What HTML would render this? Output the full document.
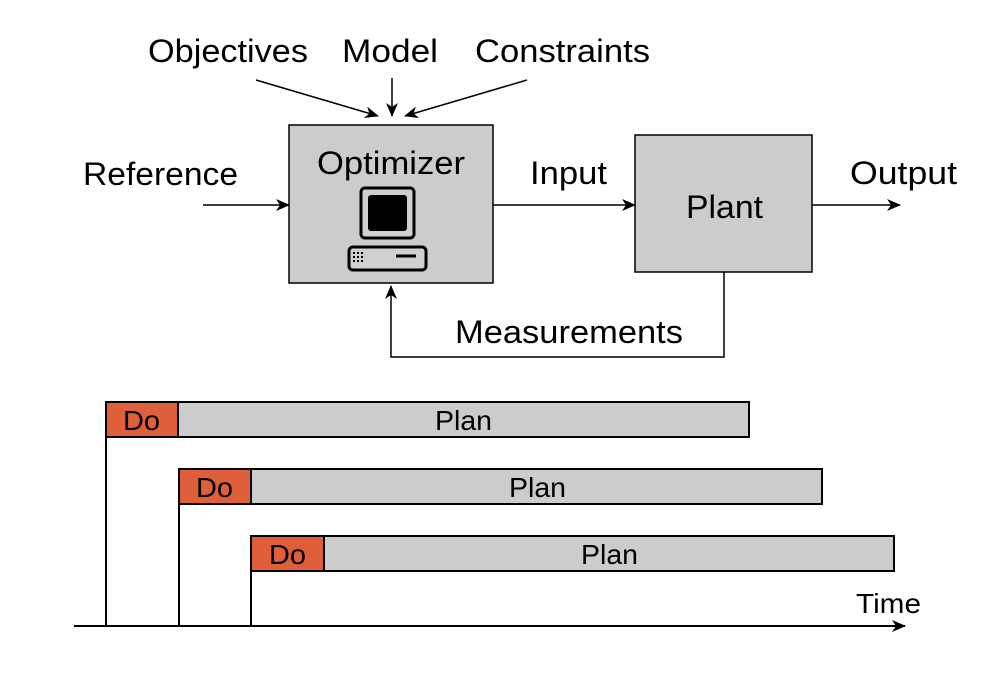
<!DOCTYPE html>
<html><head><style>body{margin:0;background:#fff}svg{display:block}</style></head><body>
<svg width="986" height="686" viewBox="0 0 986 686" xmlns="http://www.w3.org/2000/svg" font-family="Liberation Sans, Arial, sans-serif">
<defs><marker id="a" markerWidth="14" markerHeight="12" refX="13" refY="6" orient="auto" markerUnits="userSpaceOnUse"><path d="M0,0 L14,6 L0,12 L4,6 Z" fill="#000"/></marker></defs>
<g stroke="#000" stroke-width="1.5" fill="none">
<line x1="256" y1="80" x2="378" y2="116" marker-end="url(#a)"/>
<line x1="392" y1="78" x2="392" y2="116" marker-end="url(#a)"/>
<line x1="527" y1="80" x2="405" y2="116" marker-end="url(#a)"/>
<line x1="203" y1="205" x2="289" y2="205" marker-end="url(#a)"/>
<line x1="493" y1="205" x2="635" y2="205" marker-end="url(#a)"/>
<line x1="812" y1="205" x2="900" y2="205" marker-end="url(#a)"/>
<polyline points="724,272 724,357 391,357 391,286" marker-end="url(#a)"/>
</g>
<rect x="289" y="125" width="204" height="158" fill="#cccccc" stroke="#000" stroke-width="1.5"/>
<rect x="635" y="135" width="177" height="137" fill="#cccccc" stroke="#000" stroke-width="1.5"/>
<rect x="361" y="188" width="53" height="50" rx="4" fill="#d0d0d0" stroke="#000" stroke-width="3"/>
<rect x="368" y="195" width="39" height="36" rx="3" fill="#000"/>
<rect x="349" y="247" width="77" height="23" rx="4" fill="#d0d0d0" stroke="#000" stroke-width="3"/>
<line x1="396" y1="256" x2="416" y2="256" stroke="#000" stroke-width="3"/>
<g fill="#000"><rect x="353" y="252" width="2" height="2"/><rect x="357" y="252" width="2" height="2"/><rect x="361" y="252" width="2" height="2"/><rect x="353" y="256" width="2" height="2"/><rect x="357" y="256" width="2" height="2"/><rect x="361" y="256" width="2" height="2"/><rect x="353" y="260" width="2" height="2"/><rect x="357" y="260" width="2" height="2"/><rect x="361" y="260" width="2" height="2"/></g>
<g font-size="32" fill="#000">
<text x="148" y="62" textLength="160" lengthAdjust="spacingAndGlyphs">Objectives</text>
<text x="342" y="62" textLength="96" lengthAdjust="spacingAndGlyphs">Model</text>
<text x="475" y="62" textLength="175" lengthAdjust="spacingAndGlyphs">Constraints</text>
<text x="83" y="185" textLength="155" lengthAdjust="spacingAndGlyphs">Reference</text>
<text x="317" y="174" textLength="148" lengthAdjust="spacingAndGlyphs">Optimizer</text>
<text x="530" y="184" textLength="77" lengthAdjust="spacingAndGlyphs">Input</text>
<text x="686" y="218" textLength="77" lengthAdjust="spacingAndGlyphs">Plant</text>
<text x="850" y="184" textLength="107" lengthAdjust="spacingAndGlyphs">Output</text>
<text x="455" y="343" textLength="228" lengthAdjust="spacingAndGlyphs">Measurements</text>
</g>
<g stroke="#000" stroke-width="2">
<rect x="106" y="402" width="643" height="35" fill="#cccccc"/>
<rect x="106" y="402" width="72" height="35" fill="#e05f3b"/>
<rect x="179" y="469" width="643" height="35" fill="#cccccc"/>
<rect x="179" y="469" width="72" height="35" fill="#e05f3b"/>
<rect x="251" y="536" width="643" height="35" fill="#cccccc"/>
<rect x="251" y="536" width="73" height="35" fill="#e05f3b"/>
<line x1="106" y1="437" x2="106" y2="626"/>
<line x1="179" y1="504" x2="179" y2="626"/>
<line x1="251" y1="571" x2="251" y2="626"/>
<line x1="74" y1="626" x2="905" y2="626" marker-end="url(#a)"/>
</g>
<g font-size="28" fill="#000">
<text x="123" y="430" textLength="37" lengthAdjust="spacingAndGlyphs">Do</text><text x="435" y="430" textLength="57" lengthAdjust="spacingAndGlyphs">Plan</text>
<text x="196" y="497" textLength="37" lengthAdjust="spacingAndGlyphs">Do</text><text x="509" y="497" textLength="57" lengthAdjust="spacingAndGlyphs">Plan</text>
<text x="269" y="564" textLength="37" lengthAdjust="spacingAndGlyphs">Do</text><text x="581" y="564" textLength="57" lengthAdjust="spacingAndGlyphs">Plan</text>
<text x="856" y="613" textLength="65" lengthAdjust="spacingAndGlyphs">Time</text>
</g>
</svg>
</body></html>
